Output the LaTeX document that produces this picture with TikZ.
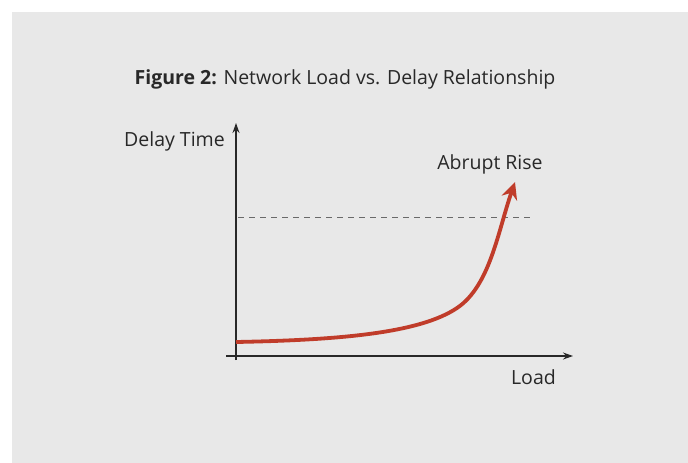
\documentclass[tikz,border=0pt]{standalone}
\usepackage{fontspec}
\setmainfont{Open Sans}
\usetikzlibrary{arrows.meta}

\definecolor{bgGray}{RGB}{232,232,232}
\definecolor{riseRed}{RGB}{192,60,42}
\definecolor{axisInk}{RGB}{40,40,40}

\tikzset{
  axis/.style={line width=1.3pt, draw=axisInk, -{Stealth[length=10pt,width=7pt]}},
  label/.style={text=axisInk, font=\fontsize{19.5}{22}\selectfont, inner sep=0pt},
}

\begin{document}
\begin{tikzpicture}[x=1pt,y=-1pt]
\useasboundingbox (0,0) rectangle (688,463);
\fill[bgGray] (12,12) rectangle (688,463);

\node[label, anchor=base] (title) at (345,84) {\textbf{Figure 2:} Network Load vs. Delay Relationship};

\coordinate (yfoot) at (236,360);
\coordinate (ytop) at (236,123);
\coordinate (xfoot) at (226,356);
\coordinate (xtip) at (573,356);
\draw[axis] (yfoot) -- (ytop);
\draw[axis] (xfoot) -- (xtip);

\node[label, anchor=base east] (ylabel) at (225,146) {Delay Time};
\node[label, anchor=base east] (xlabel) at (556,384) {Load};
\node[label, anchor=base] (rise) at (490,169) {Abrupt Rise};

\coordinate (dashL) at (238,217);
\coordinate (dashR) at (530,217);
\draw[axisInk!70, line width=0.9pt, dash pattern=on 6pt off 5pt] (dashL) -- (dashR);

\coordinate (start) at (236,342);
\coordinate (knee) at (457,308);
\coordinate (peak) at (515,182);
\draw[riseRed, line width=3.8pt, -{Stealth[length=17pt,width=16pt]}]
  (start) .. controls (340,340) and (420,333) .. (knee)
  .. controls (490,286) and (498,231) .. (peak);
\end{tikzpicture}
\end{document}
